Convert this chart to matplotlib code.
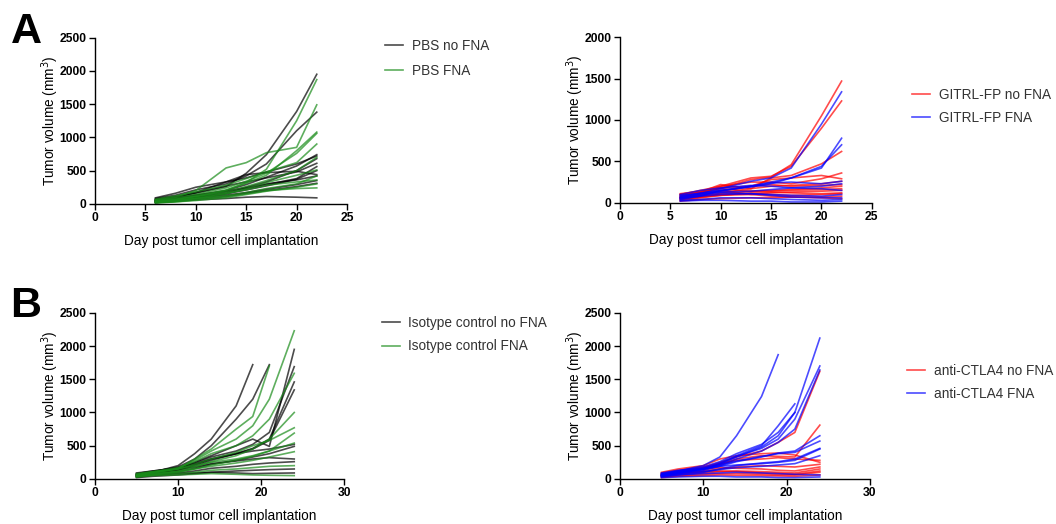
import numpy as np
import matplotlib.pyplot as plt
from matplotlib.lines import Line2D

plt.rcParams['font.family'] = ['Liberation Sans', 'DejaVu Sans']

nan = np.nan

# panel A: days measured
days_a = [6, 8, 10, 13, 15, 17, 20, 22]

pbs_no_fna = [
    [60, 100, 160, 260, 460, 740, 1390, 1950],
    [80, 130, 210, 300, 420, 600, 1100, 1380],
    [50, 80, 130, 200, 290, 400, 570, 740],
    [40, 70, 110, 180, 250, 330, 500, 680],
    [70, 110, 170, 270, 330, 390, 480, 610],
    [30, 50, 90, 150, 210, 270, 370, 500],
    [50, 100, 170, 330, 440, 470, 490, 440],
    [40, 60, 90, 130, 170, 220, 290, 350],
    [20, 40, 60, 80, 100, 110, 100, 90],
    [90, 160, 250, 330, 390, 480, 600, 720],
    [30, 60, 100, 160, 230, 290, 380, 560],
    [60, 90, 130, 190, 240, 300, 360, 420],
    [20, 40, 70, 110, 160, 200, 260, 310],
]
pbs_fna = [
    [30, 60, 110, 200, 320, 520, 1250, 1870],
    [50, 100, 200, 540, 620, 770, 850, 1490],
    [40, 70, 120, 210, 310, 430, 800, 1080],
    [60, 90, 140, 240, 340, 460, 760, 1060],
    [20, 40, 80, 150, 230, 320, 430, 510],
    [30, 50, 90, 160, 210, 280, 330, 360],
    [20, 30, 60, 110, 150, 200, 230, 240],
    [40, 70, 110, 180, 260, 350, 500, 700],
    [70, 120, 180, 280, 380, 480, 620, 900],
    [30, 50, 80, 120, 170, 230, 300, 420],
    [10, 30, 50, 90, 140, 190, 250, 300],
]

gitrl_no_fna = [
    [80, 120, 180, 280, 310, 460, 1050, 1470],
    [60, 110, 200, 300, 320, 440, 900, 1230],
    [70, 130, 220, 170, 300, 330, 470, 620],
    [100, 150, 200, 250, 250, 230, 290, 360],
    [50, 90, 120, 170, 200, 210, 230, 260],
    [90, 130, 180, 200, 220, 200, 210, 220],
    [40, 70, 110, 140, 150, 160, 180, 200],
    [110, 140, 170, 140, 140, 150, 160, 170],
    [30, 60, 90, 100, 120, 130, 140, 150],
    [60, 80, 100, 110, 100, 90, 100, 110],
    [20, 40, 50, 60, 60, 70, 70, 80],
    [100, 120, 150, 100, 80, 70, 60, 50],
    [70, 100, 140, 200, 280, 300, 330, 290],
    [50, 70, 90, 120, 130, 120, 110, 120],
]
gitrl_fna = [
    [70, 110, 170, 260, 300, 420, 950, 1340],
    [60, 100, 140, 200, 250, 300, 420, 780],
    [80, 120, 150, 190, 230, 300, 440, 700],
    [40, 80, 150, 200, 240, 250, 230, 260],
    [100, 150, 180, 210, 200, 180, 170, 150],
    [50, 80, 100, 110, 100, 90, 80, 100],
    [30, 40, 60, 60, 50, 40, 30, 40],
    [20, 30, 30, 20, 20, 10, 10, 20],
    [60, 90, 120, 110, 90, 70, 60, 60],
    [90, 110, 130, 140, 160, 180, 200, 230],
]

# panel B: days measured
days_b = [5, 7, 10, 12, 14, 17, 19, 21, 24]

iso_no_fna = [
    [60, 100, 200, 380, 600, 1100, 1720, nan, nan],
    [70, 110, 180, 300, 500, 900, 1200, 1720, nan],
    [50, 90, 150, 250, 350, 500, 600, 490, 1950],
    [80, 120, 170, 240, 330, 420, 520, 700, 1690],
    [60, 90, 130, 200, 280, 380, 460, 600, 1460],
    [40, 80, 140, 220, 300, 380, 450, 580, 1340],
    [50, 70, 110, 160, 220, 280, 330, 380, 490],
    [30, 60, 90, 120, 160, 190, 220, 240, 260],
    [40, 60, 80, 90, 100, 90, 80, 85, 90],
    [90, 120, 160, 220, 300, 380, 420, 450, 520],
    [70, 100, 140, 180, 230, 270, 300, 320, 300],
    [20, 40, 60, 80, 100, 120, 130, 140, 150],
]
iso_fna = [
    [60, 90, 150, 300, 450, 750, 940, 1700, nan],
    [50, 90, 160, 280, 420, 600, 800, 1200, 2230],
    [70, 110, 170, 260, 380, 500, 650, 900, 1590],
    [40, 70, 120, 180, 260, 350, 450, 600, 1000],
    [60, 100, 150, 220, 300, 400, 500, 580, 770],
    [30, 60, 100, 150, 210, 280, 340, 420, 540],
    [50, 80, 110, 150, 190, 240, 280, 330, 410],
    [40, 60, 80, 100, 130, 150, 170, 190, 200],
    [30, 50, 60, 70, 80, 70, 60, 55, 50],
    [80, 110, 150, 200, 250, 300, 350, 420, 690],
]

ctla4_no_fna = [
    [70, 110, 160, 220, 300, 350, 340, 330, 810],
    [60, 100, 170, 250, 330, 420, 550, 700, 1620],
    [90, 130, 180, 230, 280, 300, 320, 300, 280],
    [50, 80, 120, 150, 180, 200, 190, 180, 220],
    [80, 120, 150, 170, 160, 150, 130, 120, 180],
    [40, 70, 90, 110, 120, 110, 100, 90, 150],
    [60, 90, 110, 120, 110, 90, 80, 70, 120],
    [30, 50, 70, 80, 80, 70, 60, 60, 100],
    [100, 150, 200, 300, 350, 380, 390, 360, 250],
    [20, 40, 50, 60, 55, 50, 45, 40, 60],
]
ctla4_fna = [
    [70, 120, 200, 330, 650, 1240, 1870, nan, nan],
    [60, 100, 160, 240, 350, 500, 800, 1130, nan],
    [50, 90, 150, 220, 330, 480, 650, 1000, nan],
    [80, 120, 180, 260, 380, 520, 700, 1000, 2120],
    [60, 100, 150, 230, 340, 460, 600, 900, 1700],
    [50, 90, 140, 200, 300, 420, 550, 750, 1640],
    [40, 80, 130, 190, 260, 330, 390, 420, 650],
    [70, 110, 150, 210, 270, 340, 380, 400, 570],
    [30, 60, 100, 150, 200, 240, 260, 300, 460],
    [50, 80, 110, 140, 170, 190, 210, 230, 350],
    [40, 60, 80, 90, 100, 90, 80, 70, 60],
    [20, 30, 40, 40, 30, 30, 20, 20, 30],
    [90, 130, 160, 190, 210, 230, 250, 280, 450],
]

BLACK = '#000000'
GREEN = '#1a8c1a'
RED = '#ff0000'
BLUE = '#0000ff'

fig = plt.figure(figsize=(10.56, 5.24), dpi=100)


def panel(rect, days, g1, g2, c1, c2, xmax, ymax, ystep, xstep, labels, leg_xy, spacing):
    ax = fig.add_axes(rect)
    for m in g1:
        ax.plot(days, m, color=c1, lw=1.2, alpha=0.7)
    for m in g2:
        ax.plot(days, m, color=c2, lw=1.2, alpha=0.7)
    ax.set_xlim(0, xmax)
    ax.set_ylim(0, ymax)
    ax.set_xticks(np.arange(0, xmax + 1, xstep))
    ax.set_yticks(np.arange(0, ymax + 1, ystep))
    for s in ['top', 'right']:
        ax.spines[s].set_visible(False)
    for s in ['left', 'bottom']:
        ax.spines[s].set_linewidth(1.0)
    ax.tick_params(direction='out', length=4, width=1.0, labelsize=8.7, pad=2)
    for t in ax.get_xticklabels() + ax.get_yticklabels():
        t.set_fontweight('bold')
    ax.set_xlabel('Day post tumor cell implantation', fontsize=9.8, labelpad=7)
    ax.set_ylabel('Tumor volume (mm$^3$)', fontsize=9.8, labelpad=-1)
    handles = [Line2D([], [], color=c1, lw=1.2, alpha=0.7),
               Line2D([], [], color=c2, lw=1.2, alpha=0.7)]
    fig.legend(handles, labels, loc='upper left', bbox_to_anchor=leg_xy,
               frameon=False, fontsize=9.8, handlelength=1.3, handletextpad=0.65,
               labelspacing=spacing, borderpad=0, borderaxespad=0,
               labelcolor='#333333')
    return ax


panel([0.090, 0.611, 0.2386, 0.317], days_a, pbs_no_fna, pbs_fna, BLACK, GREEN,
      25, 2500, 500, 5, ['PBS no FNA', 'PBS FNA'], (0.3646, 0.926), 0.82)
panel([0.587, 0.613, 0.2386, 0.316], days_a, gitrl_no_fna, gitrl_fna, RED, BLUE,
      25, 2000, 500, 5, ['GITRL-FP no FNA', 'GITRL-FP FNA'], (0.8636, 0.832), 0.65)
panel([0.090, 0.086, 0.2358, 0.317], days_b, iso_no_fna, iso_fna, BLACK, GREEN,
      30, 2500, 500, 10, ['Isotype control no FNA', 'Isotype control FNA'], (0.3617, 0.397), 0.70)
panel([0.587, 0.086, 0.2367, 0.317], days_b, ctla4_no_fna, ctla4_fna, RED, BLUE,
      30, 2500, 500, 10, ['anti-CTLA4 no FNA', 'anti-CTLA4 FNA'], (0.8589, 0.305), 0.62)

fig.text(0.010, 0.978, 'A', fontsize=31, fontweight='bold', va='top', ha='left')
fig.text(0.010, 0.454, 'B', fontsize=31, fontweight='bold', va='top', ha='left')

fig.savefig('out.png', dpi=100)
